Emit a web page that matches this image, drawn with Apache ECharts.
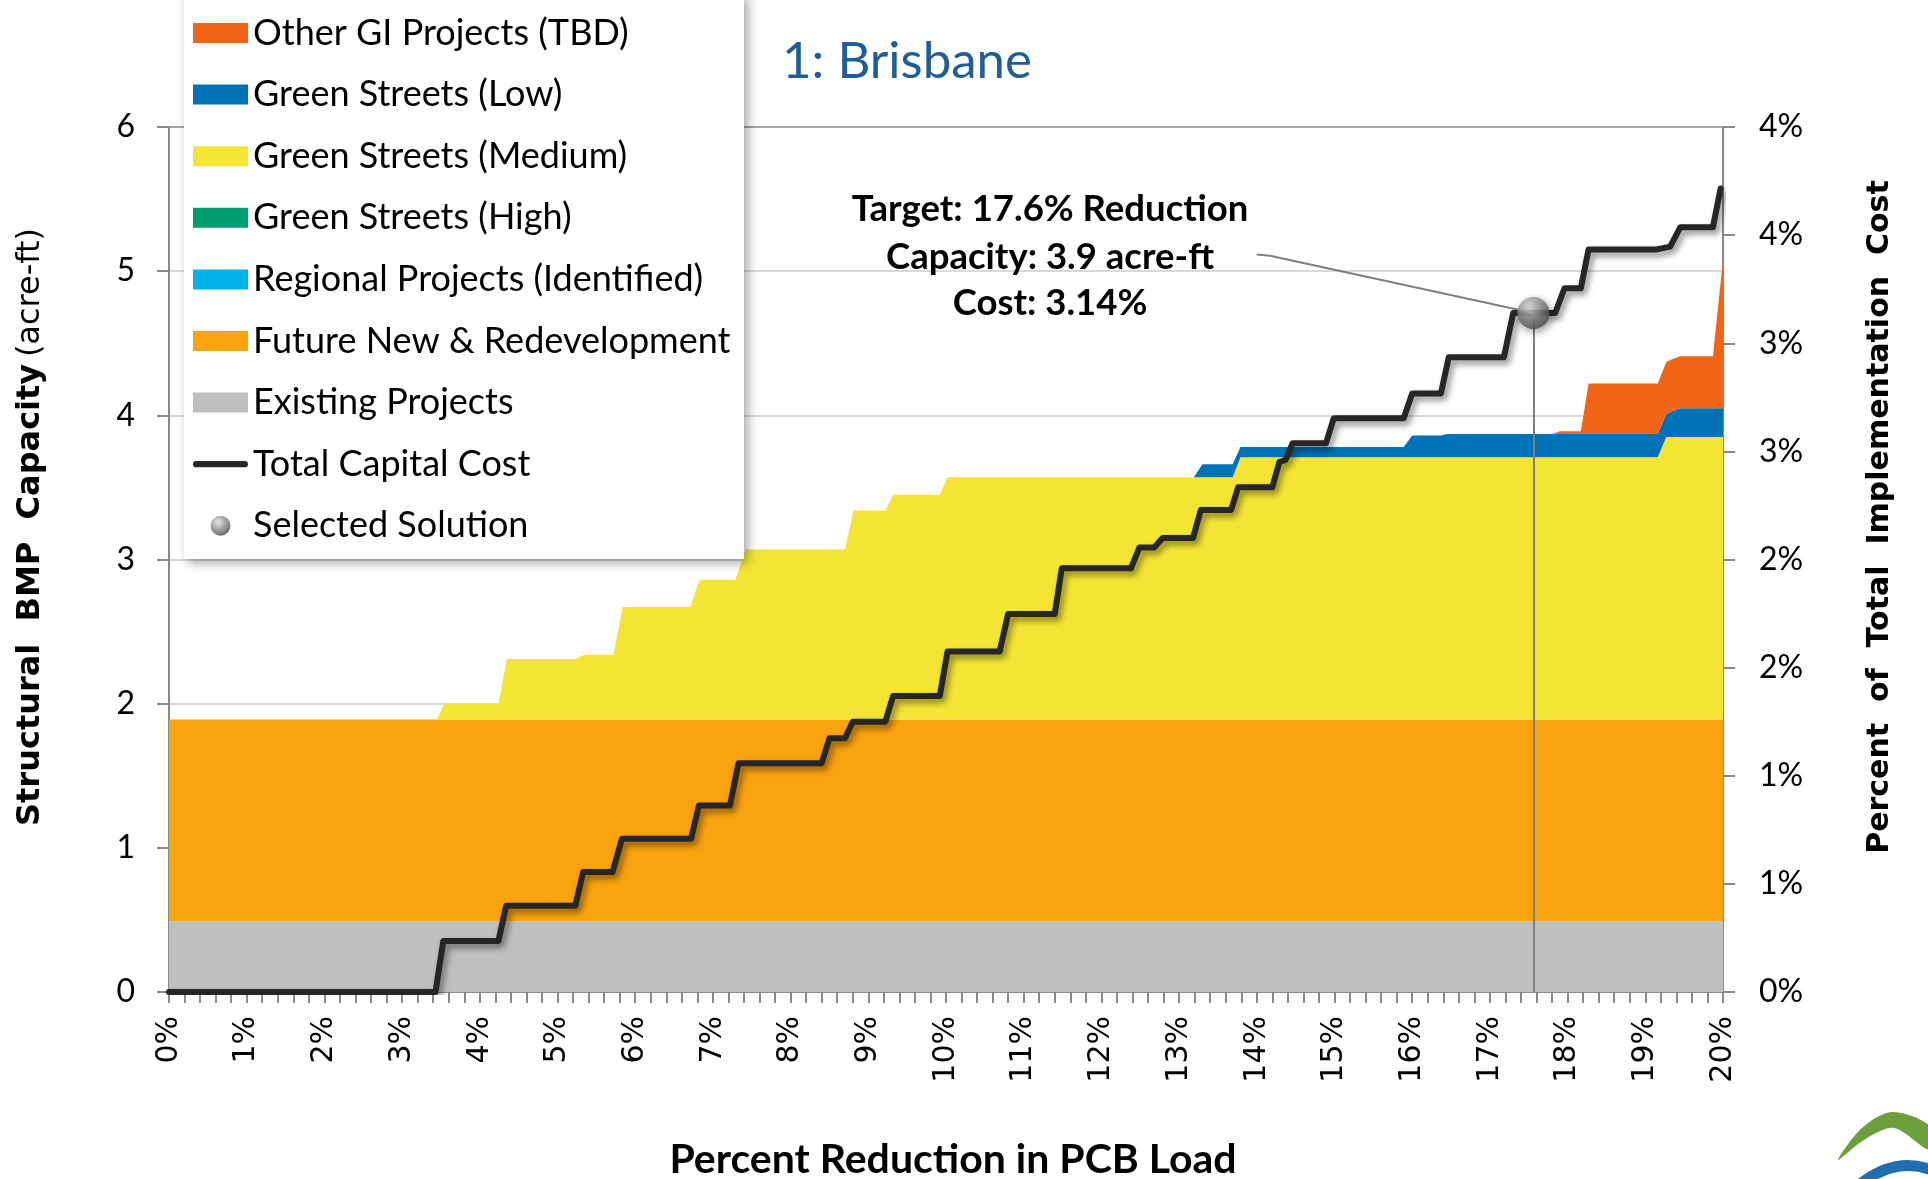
<!DOCTYPE html>
<html>
<head>
<meta charset="utf-8">
<title>1: Brisbane</title>
<script src="https://cdn.jsdelivr.net/npm/echarts@6/dist/echarts.min.js"></script>
<style>
  html, body { margin: 0; padding: 0; background: #fff; }
  #chart { width: 1928px; height: 1179px; }
</style>
</head>
<body>
<div id="chart"></div>
<script>
// percent reduction in PCB load where the stacked capacity layers change (x axis)
const reductionPct = [0, 3.45, 3.54, 4.24, 4.35, 5.23, 5.35, 5.72, 5.84, 6.71, 6.83, 7.29, 7.42, 8.70, 8.81, 9.22, 9.32,
  9.92, 10.02, 13.19, 13.30, 13.69, 13.79, 15.89, 16.00, 16.37, 16.45, 17.80, 17.90, 18.17, 18.27, 19.16, 19.27,
  19.35, 19.45, 19.87, 20.00];

// structural BMP capacity by source (acre-ft), one value per reductionPct entry
const existingProjects = [0.49, 0.49, 0.49, 0.49, 0.49, 0.49, 0.49, 0.49, 0.49, 0.49, 0.49, 0.49, 0.49, 0.49, 0.49,
  0.49, 0.49, 0.49, 0.49, 0.49, 0.49, 0.49, 0.49, 0.49, 0.49, 0.49, 0.49, 0.49, 0.49, 0.49, 0.49, 0.49, 0.49, 0.49,
  0.49, 0.49, 0.49];
const futureRedevelopment = [1.40, 1.40, 1.40, 1.40, 1.40, 1.40, 1.40, 1.40, 1.40, 1.40, 1.40, 1.40, 1.40, 1.40, 1.40,
  1.40, 1.40, 1.40, 1.40, 1.40, 1.40, 1.40, 1.40, 1.40, 1.40, 1.40, 1.40, 1.40, 1.40, 1.40, 1.40, 1.40, 1.40, 1.40,
  1.40, 1.40, 1.40];
const regionalProjects = [];
const greenStreetsHigh = [];
const greenStreetsMedium = [0, 0, 0.11, 0.11, 0.42, 0.42, 0.45, 0.45, 0.78, 0.78, 0.97, 0.97, 1.18, 1.18, 1.45, 1.45,
  1.56, 1.56, 1.68, 1.68, 1.68, 1.68, 1.82, 1.82, 1.82, 1.82, 1.82, 1.82, 1.82, 1.82, 1.82, 1.82, 1.96, 1.96, 1.96,
  1.96, 1.96];
const greenStreetsLow = [0, 0, 0, 0, 0, 0, 0, 0, 0, 0, 0, 0, 0, 0, 0, 0, 0, 0, 0, 0, 0.09, 0.09, 0.07, 0.07, 0.15,
  0.15, 0.16, 0.16, 0.16, 0.16, 0.16, 0.16, 0.16, 0.18, 0.20, 0.20, 0.20];
const otherGIProjects = [0, 0, 0, 0, 0, 0, 0, 0, 0, 0, 0, 0, 0, 0, 0, 0, 0, 0, 0, 0, 0, 0, 0, 0, 0, 0, 0, 0, 0.02,
  0.02, 0.35, 0.35, 0.36, 0.36, 0.36, 0.36, 1.03];

// total capital cost (% of total implementation cost) on the secondary axis
const costReductionPct = [0, 3.43, 3.53, 4.24, 4.34, 5.23, 5.33, 5.71, 5.83, 6.72, 6.82, 7.22, 7.33, 8.40, 8.50, 8.70,
  8.80, 9.22, 9.32, 9.92, 10.02, 10.69, 10.80, 11.40, 11.49, 12.38, 12.49, 12.68, 12.79, 13.18, 13.28, 13.67, 13.76,
  14.20, 14.29, 14.37, 14.46, 14.89, 14.99, 15.89, 16.00, 16.37, 16.47, 17.18, 17.30, 17.84, 17.96, 18.17, 18.27,
  19.15, 19.32, 19.45, 19.87, 19.97];
const totalCostPct = [0, 0, 0.236, 0.236, 0.399, 0.399, 0.555, 0.555, 0.709, 0.709, 0.863, 0.863, 1.058, 1.058, 1.173,
  1.173, 1.25, 1.25, 1.369, 1.369, 1.574, 1.574, 1.748, 1.748, 1.959, 1.959, 2.056, 2.056, 2.10, 2.10, 2.229, 2.229,
  2.334, 2.334, 2.45, 2.46, 2.537, 2.537, 2.653, 2.653, 2.768, 2.768, 2.935, 2.935, 3.14, 3.14, 3.254, 3.254, 3.434,
  3.434, 3.447, 3.536, 3.536, 3.716];

// selected solution [reduction %, cost %] and the callout leader
const selectedSolution = [17.56, 3.14];
const calloutStart = [14.0, 3.41];
const calloutElbow = [14.17, 3.405];
const calloutLines = ['Target: 17.6% Reduction', 'Capacity: 3.9 acre-ft', 'Cost: 3.14%'];

const calibri = 'Lato, "Open Sans", sans-serif';
const verdana = '"DejaVu Sans", Verdana, sans-serif';
const axisGray = '#898989';

// value first, x second: echarts stacks the first value dimension on a value x axis
function areaSeries(name, color, values) {
  return {
    name: name,
    type: 'line',
    stack: 'capacity',
    color: color,
    symbol: 'none',
    showSymbol: false,
    lineStyle: { width: 0, color: color },
    itemStyle: { color: color },
    areaStyle: { color: color, opacity: 1 },
    emphasis: { disabled: true },
    encode: { x: 1, y: 0 },
    data: values.map((v, i) => [v, reductionPct[i]]),
    z: 2
  };
}

const ballColor = new echarts.graphic.RadialGradient(0.38, 0.32, 0.7, [
  { offset: 0, color: '#e0e0e0' },
  { offset: 0.55, color: '#888888' },
  { offset: 1, color: '#4a4a4a' }
]);

function calloutText(y, text) {
  return {
    type: 'text', z: 10, x: 1050, y: y,
    style: {
      text: text, fill: '#000', fontFamily: calibri, fontSize: 36.5, fontWeight: 'bold',
      align: 'center', verticalAlign: 'middle', textAlign: 'center', textVerticalAlign: 'middle'
    }
  };
}

const chart = echarts.init(document.getElementById('chart'));

chart.setOption({
  animation: false,
  backgroundColor: '#fff',
  grid: {
    left: 169, right: 205, top: 127, bottom: 187,
    containLabel: false,
    outerBoundsMode: 'none'
  },
  legend: {
    orient: 'vertical',
    left: 193,
    top: 13,
    padding: 0,
    itemWidth: 55,
    itemHeight: 20,
    itemGap: 21.6,
    selectedMode: false,
    z: 6,
    textStyle: { fontFamily: calibri, fontSize: 36, lineHeight: 40, color: '#000' },
    data: [
      { name: 'Other GI Projects (TBD)', icon: 'rect' },
      { name: 'Green Streets (Low)', icon: 'rect' },
      { name: 'Green Streets (Medium)', icon: 'rect' },
      { name: 'Green Streets (High)', icon: 'rect' },
      { name: 'Regional Projects (Identified)', icon: 'rect' },
      { name: 'Future New & Redevelopment', icon: 'rect' },
      { name: 'Existing Projects', icon: 'rect' },
      {
        name: 'Total Capital Cost',
        icon: 'path://M3.5,0 L57.5,0 A3.5,3.5 0 0 1 57.5,7 L3.5,7 A3.5,3.5 0 0 1 3.5,0 Z',
        itemStyle: { color: '#262626', borderWidth: 0 }
      },
      { name: 'Selected Solution', icon: 'circle' }
    ]
  },
  xAxis: {
    type: 'value',
    min: 0,
    max: 20,
    interval: 0.2,
    axisLine: { show: true, lineStyle: { color: axisGray, width: 2 } },
    axisTick: { show: true, length: 11, lineStyle: { color: axisGray, width: 2 } },
    splitLine: { show: false },
    axisLabel: {
      rotate: 90,
      margin: 24,
      fontFamily: verdana,
      fontSize: 30,
      color: '#000',
      formatter: function (v) {
        return Math.abs(v - Math.round(v)) < 1e-6 ? Math.round(v) + '%' : '';
      }
    }
  },
  yAxis: [
    {
      type: 'value',
      min: 0,
      max: 6,
      interval: 1,
      axisLine: { show: true, lineStyle: { color: axisGray, width: 2 } },
      axisTick: { show: true, length: 12, lineStyle: { color: axisGray, width: 2 } },
      splitLine: {
        show: true,
        lineStyle: { color: ['#d9d9d9', '#d9d9d9', '#d9d9d9', '#d9d9d9', '#d9d9d9', '#d9d9d9', '#a6a6a6'], width: 2 }
      },
      axisLabel: { margin: 34, fontFamily: calibri, fontSize: 32, color: '#000' }
    },
    {
      type: 'value',
      position: 'right',
      min: 0,
      max: 4,
      interval: 0.5,
      axisLine: { show: true, lineStyle: { color: axisGray, width: 2 } },
      axisTick: { show: true, length: 12, lineStyle: { color: axisGray, width: 2 } },
      splitLine: { show: false },
      axisLabel: {
        margin: 36,
        fontFamily: calibri,
        fontSize: 32,
        color: '#000',
        formatter: function (v) { return Math.round(v) + '%'; }
      }
    }
  ],
  series: [
    areaSeries('Existing Projects', '#bfbfbf', existingProjects),
    areaSeries('Future New & Redevelopment', '#f9a30f', futureRedevelopment),
    areaSeries('Regional Projects (Identified)', '#00b2ea', regionalProjects),
    areaSeries('Green Streets (High)', '#009e6f', greenStreetsHigh),
    areaSeries('Green Streets (Medium)', '#f4e535', greenStreetsMedium),
    areaSeries('Green Streets (Low)', '#0072b6', greenStreetsLow),
    areaSeries('Other GI Projects (TBD)', '#f26517', otherGIProjects),
    {
      name: 'Total Capital Cost',
      type: 'line',
      yAxisIndex: 1,
      color: '#262626',
      symbol: 'none',
      showSymbol: false,
      emphasis: { disabled: true },
      lineStyle: {
        color: '#262626', width: 6, cap: 'round', join: 'round',
        shadowColor: 'rgba(0,0,0,0.45)', shadowBlur: 6, shadowOffsetX: 3, shadowOffsetY: 4
      },
      data: costReductionPct.map((x, i) => [x, totalCostPct[i]]),
      z: 3
    },
    {
      name: 'Selected Solution',
      type: 'scatter',
      yAxisIndex: 1,
      symbol: 'circle',
      symbolSize: 32,
      itemStyle: {
        color: ballColor,
        shadowColor: 'rgba(0,0,0,0.5)', shadowBlur: 8, shadowOffsetX: 2, shadowOffsetY: 3
      },
      emphasis: { disabled: true },
      data: [selectedSolution],
      z: 5,
      markLine: {
        silent: true,
        z: 4,
        symbol: ['none', 'none'],
        label: { show: false },
        lineStyle: { color: '#7f7f7f', width: 2, type: 'solid' },
        emphasis: { disabled: true },
        data: [
          [{ coord: selectedSolution }, { coord: [selectedSolution[0], 0] }],
          [{ coord: calloutStart }, { coord: calloutElbow }],
          [{ coord: calloutElbow }, { coord: selectedSolution }]
        ]
      }
    }
  ],
  graphic: [
    {
      type: 'rect',
      z: 3,
      shape: { x: 184, y: -6, width: 560, height: 565 },
      style: {
        fill: '#fff',
        shadowColor: 'rgba(0,0,0,0.35)', shadowBlur: 10, shadowOffsetX: 4, shadowOffsetY: 4
      }
    },
    {
      type: 'text', z: 10, x: 782, y: 62,
      style: {
        text: '1: Brisbane', fill: '#1f5d99',
        fontFamily: calibri, fontSize: 51,
        align: 'left', verticalAlign: 'middle', textAlign: 'left', textVerticalAlign: 'middle'
      }
    },
    calloutText(209, calloutLines[0]),
    calloutText(257, calloutLines[1]),
    calloutText(303, calloutLines[2]),
    {
      type: 'text', z: 10, x: 31, y: 527, rotation: Math.PI / 2,
      style: {
        text: '{b|Structural  BMP  Capacity}  {r|(acre-ft)}',
        align: 'center', verticalAlign: 'middle', textAlign: 'center', textVerticalAlign: 'middle',
        rich: {
          b: { fontFamily: verdana, fontSize: 32, fontWeight: 'bold', fill: '#000', color: '#000' },
          r: { fontFamily: verdana, fontSize: 32, fontWeight: 'normal', fill: '#000', color: '#000' }
        }
      }
    },
    {
      type: 'text', z: 10, x: 1880, y: 517, rotation: Math.PI / 2,
      style: {
        text: 'Percent  of  Total  Implementation  Cost', fill: '#000',
        fontFamily: verdana, fontSize: 30, fontWeight: 'bold',
        align: 'center', verticalAlign: 'middle', textAlign: 'center', textVerticalAlign: 'middle'
      }
    },
    {
      type: 'text', z: 10, x: 953, y: 1160,
      style: {
        text: 'Percent Reduction in PCB Load', fill: '#000',
        fontFamily: calibri, fontSize: 41, fontWeight: 'bold',
        align: 'center', verticalAlign: 'middle', textAlign: 'center', textVerticalAlign: 'middle'
      }
    },
    {
      type: 'polygon', z: 10,
      shape: {
        points: [[1838, 1160], [1862, 1128], [1892, 1112], [1930, 1126], [1930, 1150], [1894, 1128], [1864, 1140]],
        smooth: 0.3
      },
      style: { fill: '#6c9e3b' }
    },
    {
      type: 'bezierCurve', z: 10,
      shape: { x1: 1858, y1: 1186, cpx1: 1894, cpy1: 1156, x2: 1932, y2: 1170 },
      style: { fill: null, stroke: '#1f6fae', lineWidth: 11 }
    }
  ]
});
</script>
</body>
</html>
